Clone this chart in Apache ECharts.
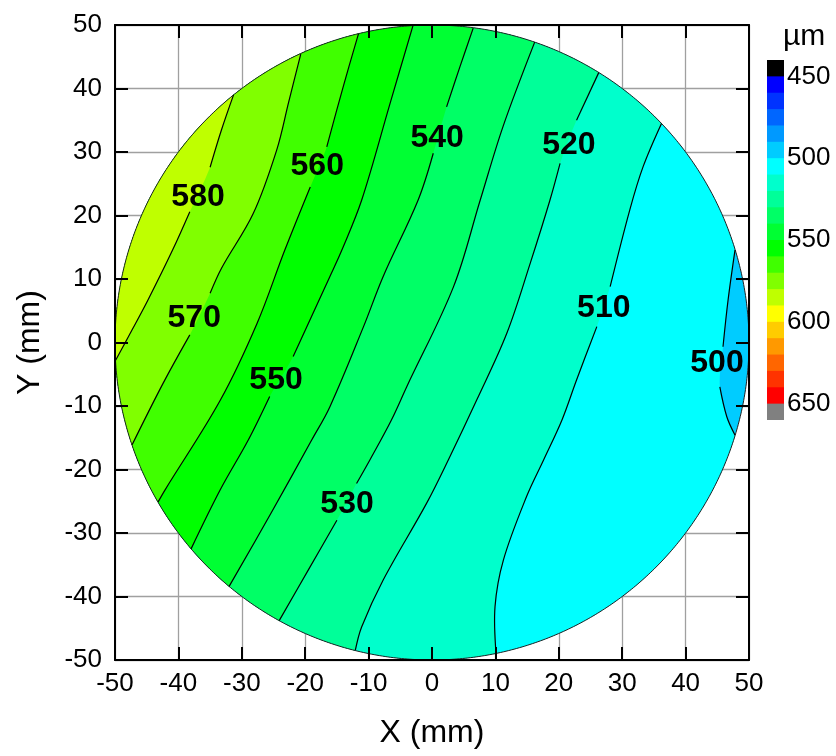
<!DOCTYPE html>
<html>
<head>
<meta charset="utf-8">
<script src="https://cdn.jsdelivr.net/npm/echarts@6/dist/echarts.min.js"></script>
<style>
html,body{margin:0;padding:0;background:#fff;}
#chart{width:836px;height:756px;}
</style>
</head>
<body>
<div id="chart"></div>
<script>
// ---------------- data (mm / µm) ----------------
const WAFER_RADIUS = 50;
const BASE_LEVEL = 490;                       // band below the lowest contour
const LEVELS = [500, 510, 520, 530, 540, 550, 560, 570, 580];

// contour lines, from top end to bottom end; null = gap under the label
const LINE_500 = [[47.8,14.6],[46.7,6.7],[45.9,-0.66],null,[45.4,-7.0],[46.5,-11.7],[47.8,-14.6]];
const LINE_510 = [[36.2,34.5],[33.3,27.7],[31.2,20.9],[28.1,8.8],null,[26.0,2.5],[22.8,-5.9],[20.5,-12.2],[17.6,-18.5],[14.9,-24.3],[11.25,-34.3],[9.94,-41.6],[10.1,-49.0]];
const LINE_520 = [[26.3,42.5],[22.8,35.0],null,[20.2,28.2],[18.6,22.4],[15.5,12.5],[11.8,1.45],[7.05,-9.06],[2.57,-18.5],[-0.84,-25.3],[-7.7,-37.4],[-11.1,-44.8],[-12.1,-48.5]];
const LINE_530 = [[16.2,47.3],[11.2,34.0],[7.6,22.4],[3.4,8.8],[-4.0,-7.0],[-6.4,-12.2],[-9.8,-18.5],[-11.9,-22.2],null,[-15.0,-28.0],[-19.5,-35.8],[-24.1,-43.8]];
const LINE_540 = [[6.5,49.5],[4.4,43.4],[2.3,37.1],null,[0.2,29.8],[-2.2,22.4],[-7.7,10.4],[-10.8,2.5],[-16.1,-10.1],[-19.0,-15.4],[-25.4,-26.9],[-32.0,-38.4]];
const LINE_550 = [[-3.0,49.9],[-6.6,37.7],[-11.1,22.4],[-14.2,14.6],[-16.1,10.4],[-21.9,-2.2],null,[-25.6,-8.5],[-29.0,-15.4],[-33.4,-23.2],[-38.0,-32.5]];
const LINE_560 = [[-11.6,48.6],[-14.0,40.3],[-16.6,30.8],null,[-19.2,24.5],[-23.2,14.6],[-27.6,3.0],[-33.4,-9.1],[-42.1,-23.2],[-43.2,-25.1]];
const LINE_570 = [[-20.7,45.4],[-22.6,37.9],[-24.5,30.3],[-28.2,20.3],[-33.2,11.7],[-35.0,7.75],null,[-38.2,1.2],[-42.4,-6.4],[-47.3,-16.1]];
const LINE_580 = [[-31.3,39.0],[-33.2,33.5],[-35.0,27.6],null,[-38.2,20.6],[-40.9,14.6],[-44.8,6.7],[-47.3,2.0],[-49.9,-2.8]];
const CONTOURS = [LINE_500, LINE_510, LINE_520, LINE_530, LINE_540, LINE_550, LINE_560, LINE_570, LINE_580];

// contour labels
const LABEL_X = [44.95, 27.1, 21.6, -13.4, 0.8, -24.6, -18.1, -37.5, -36.9];
const LABEL_Y = [-3.3, 5.4, 31.0, -25.4, 32.1, -5.9, 27.7, 3.9, 22.9];
const LABEL_TEXT = ['500', '510', '520', '530', '540', '550', '560', '570', '580'];

// colour scale (µm)
const CB_EDGES = [440,450,460,470,480,490,500,510,520,530,540,550,560,570,580,590,600,610,620,630,640,650,660];
const CB_COLORS = ['#000000','#0000FF','#0033FF','#0066FF','#0099FF','#00CCFF','#00FFFF','#00FFCC','#00FF99','#00FF66','#00FF33','#00FF00','#40FF00','#80FF00','#BFFF00','#FFFF00','#FFCC00','#FF9900','#FF6600','#FF3300','#FF0000','#808080'];
const CB_LABELS = [450, 500, 550, 600, 650];

const AXIS_MIN = -50, AXIS_MAX = 50, AXIS_STEP = 10;

// ---------------- helpers ----------------
const FONT = "'Liberation Sans', Arial, Helvetica, sans-serif";
const SMOOTH = 0.35;
function bandColor(level) {
  const i = CB_EDGES.indexOf(level);
  return CB_COLORS[i];
}
function arc(api, a0, a1) {
  const pts = [];
  const n = Math.max(2, Math.ceil(Math.abs(a1 - a0) / (Math.PI / 360)));
  for (let i = 0; i <= n; i++) {
    const a = a0 + (a1 - a0) * i / n;
    pts.push(api.coord([WAFER_RADIUS * Math.cos(a), WAFER_RADIUS * Math.sin(a)]));
  }
  return pts;
}

// split every contour at its label gap
const SEGMENTS = [];
CONTOURS.forEach(function (line) {
  let seg = [];
  line.forEach(function (p) {
    if (p === null) { if (seg.length) SEGMENTS.push(seg); seg = []; }
    else seg.push(p);
  });
  if (seg.length) SEGMENTS.push(seg);
});

const series = [];

// base disc
series.push({
  type: 'custom', xAxisIndex: 0, yAxisIndex: 0, z: 2, silent: true, animation: false,
  data: [[0, BASE_LEVEL]],
  renderItem: function (params, api) {
    return { type: 'polygon', shape: { points: arc(api, 0, 2 * Math.PI) },
             style: { fill: bandColor(BASE_LEVEL), stroke: null } };
  }
});

// filled regions above each contour level (painted in increasing order)
series.push({
  type: 'custom', xAxisIndex: 0, yAxisIndex: 0, z: 2, silent: true, animation: false,
  data: LEVELS.map((lv, i) => [i, lv]),
  renderItem: function (params, api) {
    const idx = params.dataIndex;
    const pts = CONTOURS[idx].filter(p => p !== null);
    const first = pts[0], last = pts[pts.length - 1];
    const aEnd = Math.atan2(last[1], last[0]);
    let aStart = Math.atan2(first[1], first[0]);
    while (aStart >= aEnd) aStart -= 2 * Math.PI;
    const poly = pts.map(p => api.coord(p)).concat(arc(api, aEnd, aStart).slice(1, -1));
    return { type: 'polygon', shape: { points: poly, smooth: SMOOTH },
             style: { fill: bandColor(LEVELS[idx]), stroke: null } };
  }
});

// wafer outline
series.push({
  type: 'custom', xAxisIndex: 0, yAxisIndex: 0, z: 3, silent: true, animation: false,
  data: [[0, 0]],
  renderItem: function (params, api) {
    return { type: 'polyline', shape: { points: arc(api, 0, 2 * Math.PI) },
             style: { fill: null, stroke: '#222', lineWidth: 1 } };
  }
});

// contour lines
series.push({
  type: 'custom', xAxisIndex: 0, yAxisIndex: 0, z: 4, silent: true, animation: false,
  data: SEGMENTS.map((s, i) => [i, 0]),
  renderItem: function (params, api) {
    const s = SEGMENTS[params.dataIndex];
    return { type: 'polyline', shape: { points: s.map(p => api.coord(p)), smooth: SMOOTH },
             style: { fill: null, stroke: '#000', lineWidth: 1.2 } };
  }
});

// contour labels
series.push({
  type: 'custom', xAxisIndex: 0, yAxisIndex: 0, z: 5, silent: true, animation: false,
  data: LABEL_X.map((x, i) => [x, LABEL_Y[i]]),
  renderItem: function (params, api) {
    const c = api.coord([api.value(0), api.value(1)]);
    return { type: 'text', x: c[0], y: c[1],
             style: { text: LABEL_TEXT[params.dataIndex], fill: '#000', fontSize: 32,
                      fontWeight: 'bold', fontFamily: FONT, align: 'center', verticalAlign: 'middle' } };
  }
});

// colour bar
series.push({
  type: 'custom', xAxisIndex: 3, yAxisIndex: 3, z: 2, silent: true, animation: false,
  data: CB_COLORS.map((c, i) => [CB_EDGES[i], CB_EDGES[i + 1]]),
  renderItem: function (params, api) {
    const p0 = api.coord([0, api.value(0)]);
    const p1 = api.coord([1, api.value(1)]);
    const last = params.dataIndex === CB_COLORS.length - 1;
    return { type: 'rect',
             shape: { x: Math.min(p0[0], p1[0]), y: Math.min(p0[1], p1[1]),
                      width: Math.abs(p1[0] - p0[0]), height: Math.abs(p1[1] - p0[1]) + (last ? 0 : 1) },
             style: { fill: CB_COLORS[params.dataIndex], stroke: null } };
  }
});

const labelStyle = { color: '#000', fontSize: 26, fontFamily: FONT };
const frameAxisBase = {
  gridIndex: 0, type: 'value', min: AXIS_MIN, max: AXIS_MAX, interval: AXIS_STEP, z: 6,
  axisLine: { show: true, onZero: false, lineStyle: { color: '#000', width: 2 } },
  axisTick: { show: true, inside: true, length: 13, lineStyle: { color: '#000', width: 2 } },
  splitLine: { show: false }
};

const option = {
  backgroundColor: '#fff',
  animation: false,
  textStyle: { fontFamily: FONT },
  grid: [
    { left: 115, top: 25, width: 634, height: 635, containLabel: false },
    { left: 767, top: 60, width: 17, height: 360, containLabel: false }
  ],
  xAxis: [
    Object.assign({}, frameAxisBase, {
      position: 'bottom',
      axisLabel: Object.assign({ margin: 11 }, labelStyle),
      name: 'X (mm)', nameLocation: 'middle', nameGap: 57,
      nameTextStyle: { color: '#000', fontSize: 32, fontFamily: FONT }
    }),
    Object.assign({}, frameAxisBase, { position: 'top', axisLabel: { show: false } }),
    { gridIndex: 0, type: 'value', min: AXIS_MIN, max: AXIS_MAX, interval: AXIS_STEP, position: 'bottom', z: 0,
      axisLine: { show: false }, axisTick: { show: false }, axisLabel: { show: false },
      splitLine: { show: true, lineStyle: { color: '#a0a0a0', width: 1.3 } } },
    { gridIndex: 1, type: 'value', min: 0, max: 1, show: false }
  ],
  yAxis: [
    Object.assign({}, frameAxisBase, {
      position: 'left',
      axisLabel: Object.assign({ margin: 13 }, labelStyle),
      name: 'Y (mm)', nameLocation: 'middle', nameGap: 69,
      nameTextStyle: { color: '#000', fontSize: 32, fontFamily: FONT }
    }),
    Object.assign({}, frameAxisBase, { position: 'right', axisLabel: { show: false } }),
    { gridIndex: 0, type: 'value', min: AXIS_MIN, max: AXIS_MAX, interval: AXIS_STEP, position: 'left', z: 0,
      axisLine: { show: false }, axisTick: { show: false }, axisLabel: { show: false },
      splitLine: { show: true, lineStyle: { color: '#a0a0a0', width: 1.3 } } },
    { gridIndex: 1, type: 'value', min: CB_EDGES[0], max: CB_EDGES[CB_EDGES.length - 1], interval: 10,
      inverse: true, position: 'right',
      axisLine: { show: false }, axisTick: { show: false }, splitLine: { show: false },
      axisLabel: Object.assign({ margin: 3, padding: [5, 0, 0, 0],
        formatter: function (v) { return CB_LABELS.indexOf(v) >= 0 ? String(v) : ''; } }, labelStyle) }
  ],
  graphic: [
    { type: 'text', left: 783, top: 22, silent: true,
      style: { text: 'µm', fill: '#000', fontSize: 30, fontFamily: FONT } }
  ],
  series: series
};

const chart = echarts.init(document.getElementById('chart'), null, { renderer: 'canvas' });
chart.setOption(option);
</script>
</body>
</html>
